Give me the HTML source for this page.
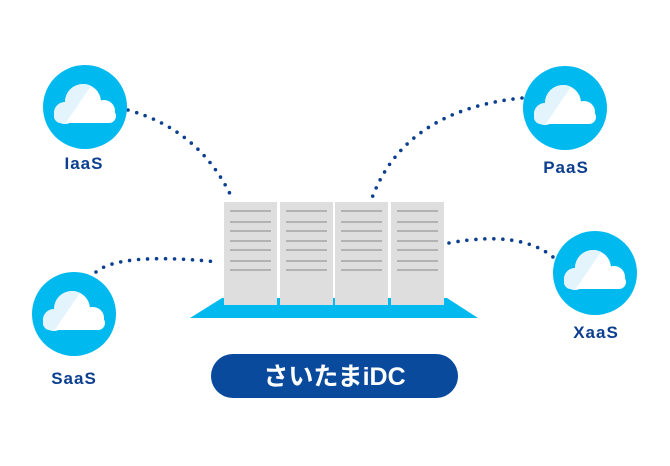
<!DOCTYPE html>
<html><head><meta charset="utf-8"><style>
html,body{margin:0;padding:0;background:#fff;}
svg{display:block}
text{font-family:"Liberation Sans","Noto Sans CJK JP",sans-serif;font-weight:bold;}
</style></head><body>
<svg width="670" height="466" viewBox="0 0 670 466" xmlns="http://www.w3.org/2000/svg">
<defs>
<clipPath id="cc">
<circle cx="-20" cy="6" r="11"/>
<circle cx="-2" cy="-5" r="18"/>
<circle cx="19" cy="4" r="11"/>
<rect x="-31" y="2" width="62" height="14" rx="7"/>
</clipPath>
<g id="cloud">
<circle r="42" fill="#00b9ef"/>
<g clip-path="url(#cc)">
<rect x="-40" y="-30" width="80" height="50" fill="#fff"/>
<polygon points="-40,-30 12,-30 -22,20 -40,20" fill="#e3f4fc"/>
</g>
</g>
</defs>
<g fill="none" stroke="#0c3f8f" stroke-width="3.6" stroke-linecap="round" stroke-dasharray="0 9">
<path d="M128,110 Q200,130 232,198"/>
<path d="M522,98 Q405,110 372,198"/>
<path d="M96,272 Q120,252 218,262"/>
<path d="M449,243 Q520,230 553,257"/>
</g>
<polygon points="222,298 447,298 478,318 190,318" fill="#00b9ef"/>
<g fill="#dedede">
<rect x="224" y="202" width="53" height="103"/>
<rect x="280" y="202" width="53" height="103"/>
<rect x="335" y="202" width="53" height="103"/>
<rect x="391" y="202" width="53" height="103"/>
</g>
<g stroke="#b3b3b3" stroke-width="2">
<path d="M230,211h41M230,222h41M230,231h41M230,241h41M230,250h41M230,261h41M230,270h41"/>
<path d="M286,211h41M286,222h41M286,231h41M286,241h41M286,250h41M286,261h41M286,270h41"/>
<path d="M341,211h41M341,222h41M341,231h41M341,241h41M341,250h41M341,261h41M341,270h41"/>
<path d="M397,211h41M397,222h41M397,231h41M397,241h41M397,250h41M397,261h41M397,270h41"/>
</g>
<rect x="211" y="354" width="247" height="44" rx="22" fill="#0a4a9c"/>
<text x="334.5" y="385" font-size="25" fill="#fff" text-anchor="middle">さいたまiDC</text>
<use href="#cloud" x="85" y="107"/>
<use href="#cloud" x="565" y="108"/>
<use href="#cloud" x="74" y="314"/>
<use href="#cloud" x="595" y="273"/>
<g font-size="17" fill="#0c3f8f" text-anchor="middle" letter-spacing="1">
<text x="84" y="169">IaaS</text>
<text x="566" y="173">PaaS</text>
<text x="74" y="384">SaaS</text>
<text x="596" y="338">XaaS</text>
</g>
</svg>
</body></html>
